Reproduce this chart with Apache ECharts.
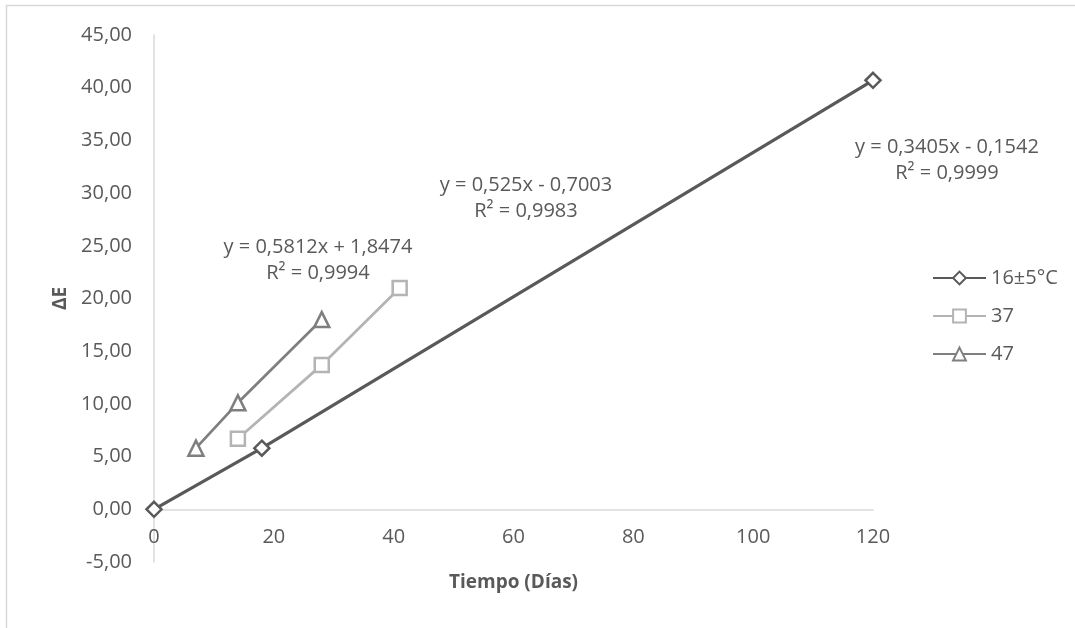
<!DOCTYPE html>
<html><head><meta charset="utf-8">
<script src="https://cdn.jsdelivr.net/npm/echarts@6/dist/echarts.min.js"></script>
<style>html,body{margin:0;padding:0;background:#fff}#c{width:1075px;height:628px}</style>
</head><body><div id="c"></div>
<script>
var seriesNames = ['16±5°C', '37', '47'];
var x16 = [0, 18, 120];
var y16 = [0, 5.8, 40.7];
var x37 = [14, 28, 41];
var y37 = [6.7, 13.7, 21.0];
var x47 = [7, 14, 28];
var y47 = [5.8, 10.1, 18.0];
var yTicks = [-5, 45, 5];
var xTicks = [0, 120, 20];
var eqLabels = [
  ['y = 0,5812x + 1,8474', 'R² = 0,9994'],
  ['y = 0,525x - 0,7003', 'R² = 0,9983'],
  ['y = 0,3405x - 0,1542', 'R² = 0,9999']
];
function pairs(xs, ys){ return xs.map(function(v,i){return [v, ys[i]];}); }
var FONT = '"Open Sans", "Liberation Sans", sans-serif';
var chart = echarts.init(document.getElementById('c'));
function ser(name, data, color, symbol, size, lw){
  return {
    name: name, type: 'line', data: data, symbol: symbol, symbolSize: size,
    showAllSymbol: true,
    lineStyle: {color: color, width: lw},
    itemStyle: {color: '#fff', borderColor: color, borderWidth: 2.5},
    emphasis: {disabled: true}, animation: false, z: 3
  };
}
function eqText(lines, cx, cy){
  return {
    type: 'text', x: cx, y: cy, z: 10,
    style: {text: lines.join('\n'), fill: '#595959', font: '20px ' + FONT, align: 'center', verticalAlign: 'top', lineHeight: 26}
  };
}
chart.setOption({
  animation: false,
  grid: {left: 154, right: 202, top: 35, bottom: 66, containLabel: false},
  xAxis: {
    type: 'value', min: xTicks[0], max: xTicks[1], interval: xTicks[2],
    offset: -52.7,
    axisLine: {show: true, onZero: false, lineStyle: {color: '#d9d9d9', width: 1.5}},
    axisTick: {show: false}, splitLine: {show: false},
    axisLabel: {color: '#595959', fontSize: 20, fontFamily: FONT, margin: 18},
    name: 'Tiempo (Días)', nameLocation: 'middle', nameGap: 64,
    nameTextStyle: {color: '#595959', fontSize: 19, fontWeight: 'bold', fontFamily: FONT}
  },
  yAxis: {
    type: 'value', min: yTicks[0], max: yTicks[1], interval: yTicks[2],
    axisLine: {show: true, onZero: false, lineStyle: {color: '#d9d9d9', width: 1.5}},
    axisTick: {show: false}, splitLine: {show: false},
    axisLabel: {color: '#595959', fontSize: 20, fontFamily: FONT, margin: 22,
      formatter: function(v){ return v.toFixed(2).replace('.', ','); }},
    name: 'ΔE', nameLocation: 'middle', nameGap: 28, nameRotate: 90,
    nameTextStyle: {color: '#595959', fontSize: 19, fontWeight: 'bold', fontFamily: FONT}
  },
  legend: {
    orient: 'vertical', left: 927, top: 263, itemGap: 18, itemWidth: 53, itemHeight: 16,
    textStyle: {color: '#595959', fontSize: 20, fontFamily: FONT},
    data: seriesNames, selectedMode: false
  },
  graphic: [
    {type: 'rect', shape: {x: 6.5, y: 5.5, width: 1100, height: 700}, style: {fill: 'none', stroke: '#d9d9d9', lineWidth: 1.5}, z: 0, silent: true},
    eqText(eqLabels[0], 318, 234),
    eqText(eqLabels[1], 526, 172),
    eqText(eqLabels[2], 947, 134)
  ],
  series: [
    ser(seriesNames[0], pairs(x16, y16), '#595959', 'diamond', 15, 3.25),
    ser(seriesNames[1], pairs(x37, y37), '#b4b4b4', 'rect', 14, 2.75),
    ser(seriesNames[2], pairs(x47, y47), '#7f7f7f', 'triangle', 15, 2.75)
  ]
});
</script></body></html>
